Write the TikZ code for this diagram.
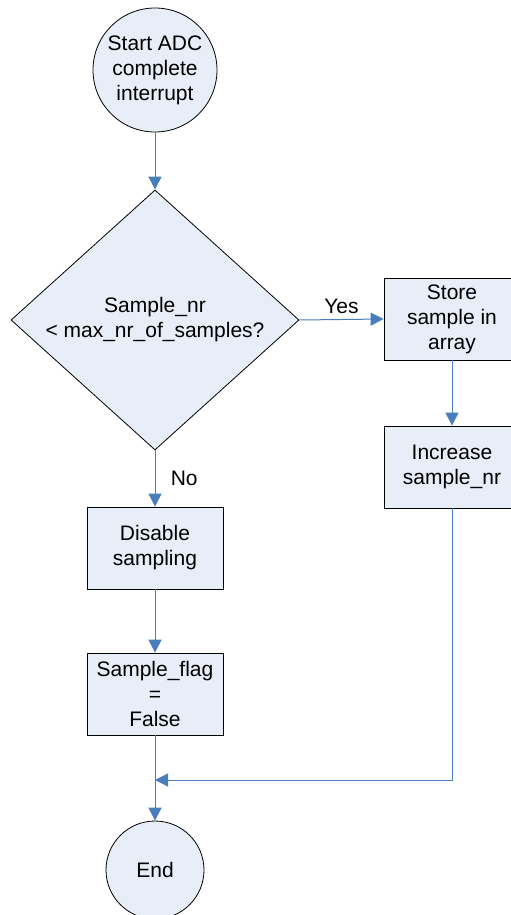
\documentclass[tikz,border=0pt]{standalone}
\usepackage{fontspec}
\setmainfont{Liberation Sans}
\usetikzlibrary{arrows.meta,shapes.geometric}

\definecolor{boxfill}{HTML}{E8EEF7}
\definecolor{flowline}{HTML}{4A7EBB}

\tikzset{
	terminal/.style={circle, draw=black, fill=boxfill, line width=0.8pt, inner sep=0pt, align=center},
	stepbox/.style={rectangle, draw=black, fill=boxfill, line width=0.8pt, minimum width=136pt, minimum height=82pt, inner sep=0pt, align=center},
	decision/.style={diamond, draw=black, fill=boxfill, line width=0.8pt, inner sep=0pt, aspect=1.1, minimum width=288pt, minimum height=260pt, align=center},
	flow/.style={draw=flowline, line width=1pt, -{Triangle[length=13pt,width=13pt]}}
}

\begin{document}
\begin{tikzpicture}[x=1pt, y=-1pt, font=\fontsize{21}{25}\selectfont]
		% Fix the page to the reference size
		\useasboundingbox (0,0) rectangle (511,915);
		
		% Start and end of the interrupt routine
		\node[terminal, minimum size=124pt] (start) at (155,70) {Start ADC\\complete\\interrupt};
		\node[terminal, minimum size=98pt] (end) at (155,870) {End};
		
		% The test on the sample counter
		\node[decision] (test) at (155,320) {Sample\_nr\\< max\_nr\_of\_samples?};
		
		% Yes branch
		\node[stepbox] (store) at (452,319) {Store\\sample in\\array};
		\node[stepbox] (incr) at (452,467) {Increase\\sample\_nr};
		
		% No branch
		\node[stepbox] (disable) at (155,548) {Disable\\sampling};
		\node[stepbox] (flag) at (155,694) {Sample\_flag\\=\\False};
		
		% Point where both branches meet
		\coordinate (merge) at (155,780);
		
		% Connectors
		\draw[flow] (start) -- (test);
		\draw[flow] (test.east) -- (store.west) node[midway, above=2pt] {Yes};
		\draw[flow] (store) -- (incr);
		\draw[flow] (test.south) -- (disable.north) node[midway, right=12pt] {No};
		\draw[flow] (disable) -- (flag);
		\draw[flow] (incr.south) |- (merge);
		\draw[flow] (flag.south) -- (end.north);
		
	\end{tikzpicture}
\end{document}
